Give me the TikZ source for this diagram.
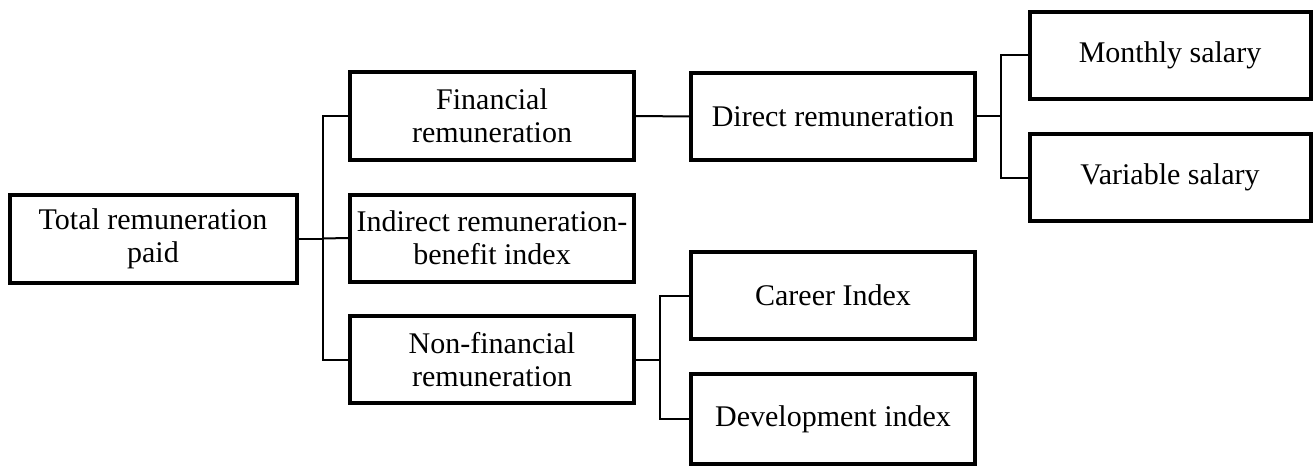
\documentclass[tikz,border=0pt]{standalone}
\usepackage{fontspec}
\setmainfont{Liberation Serif}
\begin{document}
\begin{tikzpicture}[x=1pt,y=-1pt]
\tikzset{box/.style={draw=black,line width=4pt,rectangle,minimum width=284pt,minimum height=87pt,inner sep=2pt,align=center,font=\fontsize{30}{33}\selectfont},
link/.style={draw=black,line width=2pt}}
\useasboundingbox (0,0) rectangle (1316,468);
% first level
\node [box,minimum width=287pt,minimum height=88pt] (total) at (153,238.5) {Total remuneration\\paid};
% second level
\node [box] (fin) at (492,116) {Financial\\remuneration};
\node [box] (indirect) at (492,238) {Indirect remuneration-\\benefit index};
\node [box] (nonfin) at (492,359.5) {Non-financial\\remuneration};
% third level
\node [box] (direct) at (833,116.5) {Direct remuneration};
\node [box] (career) at (833,295.5) {Career Index};
\node [box,minimum height=90pt] (devel) at (833,419) {Development index};
% fourth level
\node [box,minimum width=281pt] (monthly) at (1170,55.5) {Monthly salary};
\node [box,minimum width=281pt] (variable) at (1170,177.5) {Variable salary};
% connectors
\coordinate (j1) at (323,238.5);
\coordinate (j2) at (1001,116.5);
\coordinate (j3) at (660,359.5);
\draw [link] (total.east) -- (j1);
\draw [link] (fin.west) -| (j1) |- (nonfin.west);
\draw [link] (j1) -- (indirect.west);
\draw [link] (fin.east) -- (direct.west);
\draw [link] (direct.east) -- (j2);
\draw [link] (monthly.west) -| (j2) |- (variable.west);
\draw [link] (nonfin.east) -- (j3);
\draw [link] (career.west) -| (j3) |- (devel.west);
\end{tikzpicture}
\end{document}
